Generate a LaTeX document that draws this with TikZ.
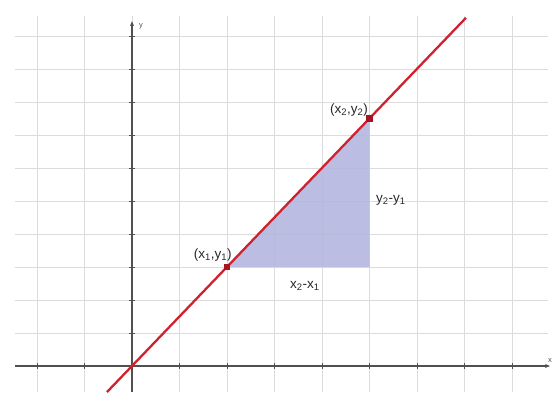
\documentclass[tikz,border=0pt]{standalone}
\usepackage{fontspec}
\setmainfont{Liberation Sans}
\usetikzlibrary{arrows.meta}
\definecolor{gridc}{RGB}{220,220,220}
\definecolor{axisc}{RGB}{80,80,80}
\definecolor{linec}{RGB}{208,34,46}
\definecolor{ptc}{RGB}{165,20,35}
\definecolor{trifill}{RGB}{178,181,222}
\definecolor{txt}{RGB}{40,40,40}
\begin{document}
\begin{tikzpicture}[x=47.5pt,y=33pt,
  gridline/.style={draw=gridc,line width=0.9pt},
  axisline/.style={draw=axisc,line width=1.1pt},
  tickmark/.style={draw=axisc,line width=0.9pt},
  redline/.style={draw=linec,line width=2.3pt},
  ptmark/.style={fill=ptc,minimum size=6.5pt,inner sep=0pt,rectangle},
  lbl/.style={text=txt,font=\fontsize{13.5}{15}\selectfont,inner sep=1pt},
  axlbl/.style={text=axisc,font=\fontsize{7.5}{8}\selectfont,inner sep=0pt}]
\useasboundingbox (-2.7789,-0.7879) rectangle (8.8842,11.0909);
\fill[white] (-2.7789,-0.7879) rectangle (8.8842,11.0909);
% grid
\foreach \x in {-2,...,8} \draw[gridline] (\x,-0.79) -- (\x,10.6);
\foreach \y in {1,...,10} \draw[gridline] (-2.46,\y) -- (8.76,\y);
% triangle
\coordinate (P1) at (2,3);
\coordinate (P2) at (5,7.5);
\coordinate (C) at (5,3);
\fill[trifill,opacity=0.88] (P1) -- (C) -- (P2) -- cycle;
% axes
\coordinate (xs) at (-2.46,0);
\coordinate (xe) at (8.80,0);
\coordinate (ys) at (0,-0.79);
\coordinate (ye) at (0,10.45);
\draw[axisline,-{Stealth[length=5pt,width=4pt]}] (xs) -- (xe);
\draw[axisline,-{Stealth[length=5pt,width=4pt]}] (ys) -- (ye);
\foreach \x in {-2,-1,1,2,...,8} \draw[tickmark] (\x,-0.09) -- (\x,0.09);
\foreach \y in {1,...,10} \draw[tickmark] (-0.065,\y) -- (0.065,\y);
\node[axlbl] (ylab) at (0.19,10.3) {y};
\node[axlbl] (xlab) at (8.80,0.17) {x};
% red line
\coordinate (L0) at (-0.527,-0.79);
\coordinate (L1) at (7.03,10.55);
\draw[redline] (L0) -- (L1);
\node[ptmark] (p1) at (P1) {};
\node[ptmark] (p2) at (P2) {};
% labels
\node[lbl] (l1) at (1.70,3.36) {(x\textsubscript{1},y\textsubscript{1})};
\node[lbl] (l2) at (4.57,7.76) {(x\textsubscript{2},y\textsubscript{2})};
\node[lbl] (dy) at (5.45,5.03) {y\textsubscript{2}-y\textsubscript{1}};
\node[lbl] (dx) at (3.64,2.42) {x\textsubscript{2}-x\textsubscript{1}};
\end{tikzpicture}
\end{document}
